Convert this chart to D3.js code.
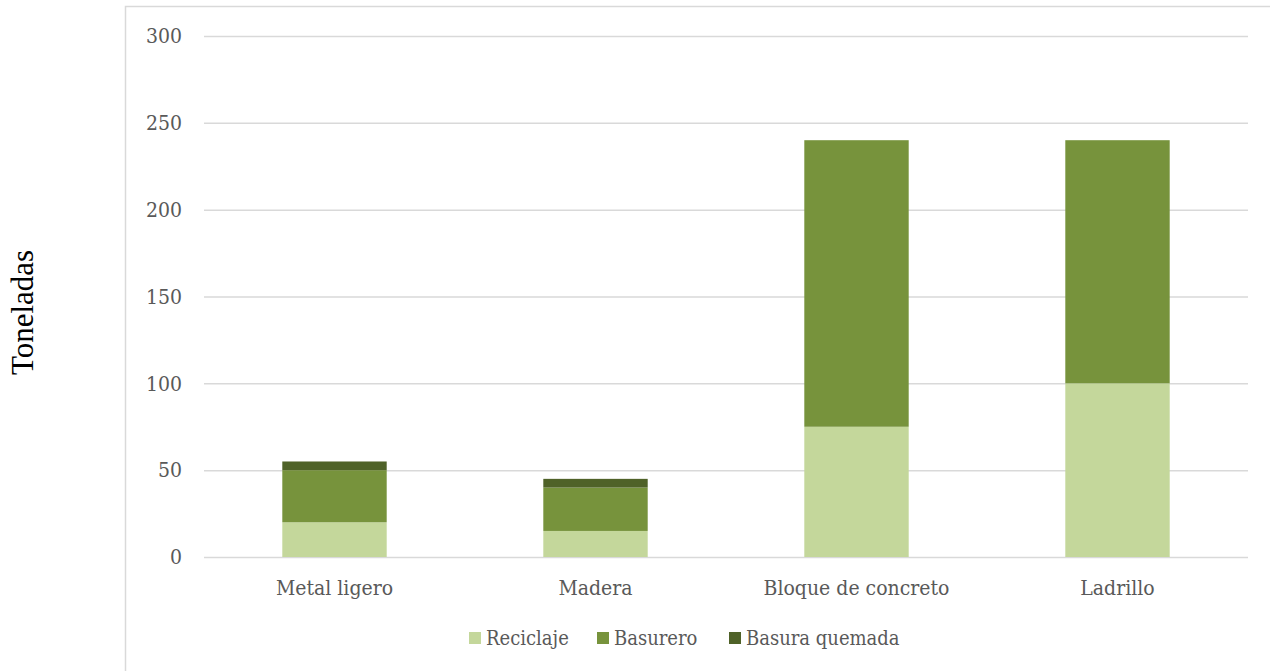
<!DOCTYPE html>
<html>
<head>
<meta charset="utf-8">
<script src="https://cdn.jsdelivr.net/npm/d3@7"></script>
<style>
  body { margin: 0; background: #fff; }
  svg { display: block; }
  .tick text { font-family: 'DejaVu Serif Condensed', 'DejaVu Serif', serif; fill: #595959; }
</style>
</head>
<body>
<div id="chart"></div>
<script>
// chart data
const categories = ['Metal ligero', 'Madera', 'Bloque de concreto', 'Ladrillo']
const seriesNames = ['Reciclaje', 'Basurero', 'Basura quemada']
const reciclaje = [20, 15, 75, 100]
const basurero = [30, 25, 165, 140]
const quemada = [5, 5, 0, 0]
const yTicks = [0, 50, 100, 150, 200, 250, 300]

const colors = ['#c4d79b', '#77933c', '#4f6228']

const width = 1270
const height = 671
const margin = { left: 204, right: 22, top: 36, bottom: 114 }

const svg = d3.select('#chart').append('svg')
  .attr('width', width)
  .attr('height', height)

// outer chart frame (cut at right and bottom)
svg.append('path')
  .attr('d', `M125.5,${height} V6.5 H${width}`)
  .attr('fill', 'none')
  .attr('stroke', '#d9d9d9')
  .attr('stroke-width', 1.5)

const rows = categories.map((c, i) => ({
  cat: c,
  'Reciclaje': reciclaje[i],
  'Basurero': basurero[i],
  'Basura quemada': quemada[i]
}))
const stacked = d3.stack().keys(seriesNames)(rows)

const x = d3.scaleBand()
  .domain(categories)
  .range([margin.left, width - margin.right])
  .paddingInner(0.6)
  .paddingOuter(0.3)

const y = d3.scaleLinear()
  .domain([0, 300])
  .range([height - margin.bottom, margin.top])

// grid
svg.append('g')
  .attr('transform', `translate(${margin.left},0)`)
  .call(d3.axisLeft(y).tickValues(yTicks).tickSize(-(width - margin.left - margin.right)).tickFormat(''))
  .call(g => g.select('.domain').remove())
  .call(g => g.selectAll('line').attr('stroke', '#d9d9d9').attr('stroke-width', 1.5))

// bars
svg.append('g').selectAll('g')
  .data(stacked)
  .join('g')
  .attr('fill', (d, i) => colors[i])
  .selectAll('rect')
  .data(d => d)
  .join('rect')
  .attr('x', d => x(d.data.cat))
  .attr('width', x.bandwidth())
  .attr('y', d => y(d[1]))
  .attr('height', d => y(d[0]) - y(d[1]))

// y axis labels
svg.append('g')
  .attr('transform', `translate(${margin.left - 22},0)`)
  .call(d3.axisLeft(y).tickValues(yTicks).tickSize(0).tickPadding(0))
  .call(g => g.select('.domain').remove())
  .call(g => g.selectAll('text').attr('font-size', 21).attr('text-anchor', 'end'))

// x axis labels
svg.append('g')
  .attr('transform', `translate(0,${height - margin.bottom})`)
  .call(d3.axisBottom(x).tickSize(0).tickPadding(23))
  .call(g => g.select('.domain').remove())
  .call(g => g.selectAll('text').attr('font-size', 21))

// y axis title
svg.append('text')
  .attr('transform', `translate(33,${(height - margin.bottom + margin.top) / 2 + 16}) rotate(-90)`)
  .attr('text-anchor', 'middle')
  .attr('font-family', "'Liberation Serif', serif")
  .attr('font-size', 31)
  .attr('fill', '#000')
  .text('Toneladas')

// legend
const legendX = [469, 597, 729]
const legend = svg.append('g').selectAll('g')
  .data(seriesNames)
  .join('g')
  .attr('transform', (d, i) => `translate(${legendX[i]},638)`)
legend.append('rect')
  .attr('x', 0).attr('y', -6).attr('width', 12).attr('height', 12)
  .attr('fill', (d, i) => colors[i])
legend.append('text')
  .attr('x', 17).attr('dy', '0.35em')
  .attr('font-family', "'DejaVu Serif Condensed', 'DejaVu Serif', serif")
  .attr('font-size', 20)
  .attr('fill', '#595959')
  .text(d => d)
</script>
</body>
</html>
